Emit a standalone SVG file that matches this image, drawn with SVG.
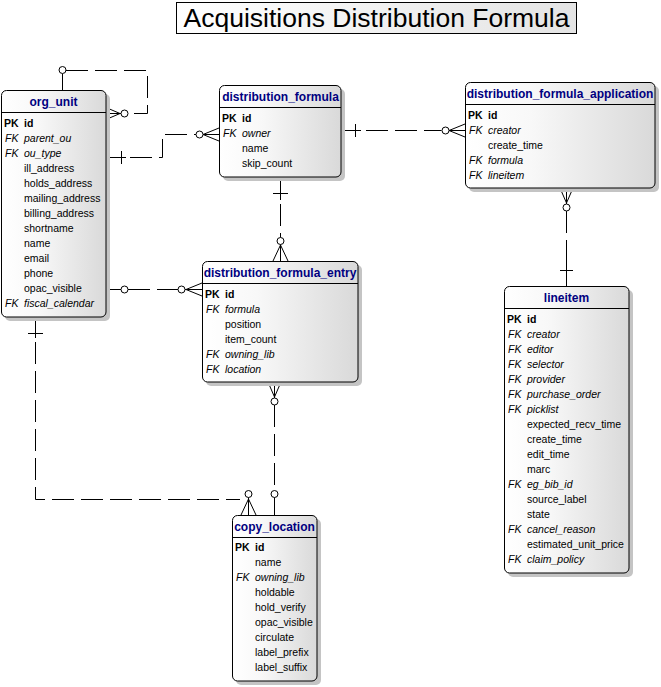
<svg xmlns="http://www.w3.org/2000/svg" width="661" height="687" viewBox="0 0 661 687">
<defs>
<linearGradient id="g" x1="0" y1="0" x2="1" y2="0">
<stop offset="0" stop-color="#ffffff"/>
<stop offset="0.35" stop-color="#f8f8f8"/>
<stop offset="1" stop-color="#d9d9d9"/>
</linearGradient>
<linearGradient id="gt" x1="0" y1="0" x2="1" y2="0">
<stop offset="0" stop-color="#ffffff"/>
<stop offset="1" stop-color="#e4e4e4"/>
</linearGradient>
</defs>
<style>
.box{fill:url(#g);stroke:#000;stroke-width:1}
.sh{fill:#c4c4c4;stroke:none}
.sep{stroke:#000;stroke-width:1}
.hdr{font-family:"Liberation Sans",Arial,sans-serif;font-size:12px;font-weight:bold;fill:#000080;text-anchor:middle}
.f{font-family:"Liberation Sans",Arial,sans-serif;font-size:10.5px;fill:#000}
.pk{font-weight:bold}
.fk{font-style:italic}
.ln{stroke:#000;stroke-width:1;fill:none}
.d{stroke-dasharray:22 7}
.c{stroke:#000;stroke-width:1;fill:#fff}
.title{font-family:"Liberation Sans",Arial,sans-serif;font-size:26.5px;fill:#000;text-anchor:middle}
</style>
<rect width="661" height="687" fill="#fff"/>

<g id="title">
<rect x="176.5" y="2.5" width="400" height="31" fill="url(#gt)" stroke="#000"/>
<text class="title" x="376.5" y="27">Acquisitions Distribution Formula</text>
</g>

<g id="connectors">
<!-- org_unit self reference (parent_ou) -->
<path class="ln" d="M62.5,90 V73.5"/>
<path class="ln d" d="M66,70.5 H147.5 V113.5 H128"/>
<circle class="c" cx="62.5" cy="70" r="3.5"/>
<path class="ln" d="M121,113.5 H106 M120,113.5 L106,107.5 M120,113.5 L106,119.5"/>
<circle class="c" cx="124.5" cy="113.5" r="3.5"/>

<!-- org_unit -> distribution_formula (owner) -->
<path class="ln" d="M106,157.5 H126 M121.5,151 V164"/>
<path class="ln d" d="M130,157.5 H162.5 V134.5 H196"/>
<path class="ln" d="M203,134.5 H219 M203,134.5 L219,128 M203,134.5 L219,141"/>
<circle class="c" cx="199.5" cy="134.5" r="3.5"/>

<!-- distribution_formula -> distribution_formula_application (formula) -->
<path class="ln" d="M341,130.5 H361 M355.5,124 V137"/>
<path class="ln d" d="M366,130.5 H441.5"/>
<path class="ln" d="M449,130.5 H465 M449,130.5 L465,124 M449,130.5 L465,137"/>
<circle class="c" cx="445.5" cy="130.5" r="3.5"/>

<!-- lineitem -> distribution_formula_application (lineitem) -->
<path class="ln" d="M566.5,188 V204 M566.5,203 L560,188 M566.5,203 L573,188"/>
<circle class="c" cx="566.5" cy="207.5" r="3.5"/>
<path class="ln d" d="M566.5,211 V262"/>
<path class="ln" d="M566.5,262 V286 M560,270.5 H573"/>

<!-- distribution_formula -> distribution_formula_entry (formula) -->
<path class="ln" d="M280.5,177 V200 M273,193.5 H288"/>
<path class="ln d" d="M280.5,204 V237.5"/>
<circle class="c" cx="280.5" cy="241" r="3.5"/>
<path class="ln" d="M280.5,244.5 V261 M280.5,245 L273,261 M280.5,245 L288,261"/>

<!-- org_unit -> distribution_formula_entry (owning_lib) -->
<path class="ln" d="M106,289.5 H121"/>
<circle class="c" cx="124.5" cy="289.5" r="3.5"/>
<path class="ln d" d="M128,289.5 H178"/>
<circle class="c" cx="181.5" cy="289.5" r="3.5"/>
<path class="ln" d="M185,289.5 H202 M186,289.5 L202,283 M186,289.5 L202,296"/>

<!-- org_unit -> copy_location (owning_lib) -->
<path class="ln" d="M35.5,317 V338 M28,333.5 H43"/>
<path class="ln d" d="M35.5,342 V499.5 H240"/>
<circle class="c" cx="248.5" cy="494" r="3.5"/>
<path class="ln" d="M248.5,497.5 V515 M248.5,499 L241,515 M248.5,499 L256,515"/>

<!-- copy_location -> distribution_formula_entry (location) -->
<path class="ln" d="M274.5,382 V398 M274.5,397 L268,382 M274.5,397 L281,382"/>
<circle class="c" cx="274.5" cy="401.5" r="3.5"/>
<path class="ln d" d="M274.5,405 V490.5"/>
<circle class="c" cx="274.5" cy="494" r="3.5"/>
<path class="ln" d="M274.5,497.5 V515"/>
</g>

<g id="org_unit">
<rect class="sh" x="5" y="94" width="105" height="227" rx="5"/>
<rect class="box" x="1.5" y="90.5" width="104.5" height="226.5" rx="5"/>
<line class="sep" x1="1.5" y1="112.5" x2="106" y2="112.5"/>
<text class="hdr" x="53.5" y="106">org_unit</text>
<text class="f pk" x="4" y="127">PK<tspan x="24">id</tspan></text>
<text class="f fk" x="5" y="142">FK<tspan x="24">parent_ou</tspan></text>
<text class="f fk" x="5" y="157">FK<tspan x="24">ou_type</tspan></text>
<text class="f" x="24" y="172">ill_address</text>
<text class="f" x="24" y="187">holds_address</text>
<text class="f" x="24" y="202">mailing_address</text>
<text class="f" x="24" y="217">billing_address</text>
<text class="f" x="24" y="232">shortname</text>
<text class="f" x="24" y="247">name</text>
<text class="f" x="24" y="262">email</text>
<text class="f" x="24" y="277">phone</text>
<text class="f" x="24" y="292">opac_visible</text>
<text class="f fk" x="5" y="307">FK<tspan x="24">fiscal_calendar</tspan></text>
</g>

<g id="distribution_formula">
<rect class="sh" x="223" y="89" width="122" height="92" rx="5"/>
<rect class="box" x="219.5" y="85.5" width="121.5" height="91.5" rx="5"/>
<line class="sep" x1="219.5" y1="107.5" x2="341" y2="107.5"/>
<text class="hdr" x="280.5" y="101">distribution_formula</text>
<text class="f pk" x="222" y="122">PK<tspan x="242">id</tspan></text>
<text class="f fk" x="223" y="137">FK<tspan x="242">owner</tspan></text>
<text class="f" x="242" y="152">name</text>
<text class="f" x="242" y="167">skip_count</text>
</g>

<g id="distribution_formula_application">
<rect class="sh" x="469" y="86" width="190" height="106" rx="5"/>
<rect class="box" x="465.5" y="82.5" width="189.5" height="105.5" rx="5"/>
<line class="sep" x1="465.5" y1="104.5" x2="655" y2="104.5"/>
<text class="hdr" x="560" y="98">distribution_formula_application</text>
<text class="f pk" x="468" y="119">PK<tspan x="488">id</tspan></text>
<text class="f fk" x="469" y="134">FK<tspan x="488">creator</tspan></text>
<text class="f" x="488" y="149">create_time</text>
<text class="f fk" x="469" y="164">FK<tspan x="488">formula</tspan></text>
<text class="f fk" x="469" y="179">FK<tspan x="488">lineitem</tspan></text>
</g>

<g id="distribution_formula_entry">
<rect class="sh" x="206" y="265" width="156" height="121" rx="5"/>
<rect class="box" x="202.5" y="261.5" width="155.5" height="120.5" rx="5"/>
<line class="sep" x1="202.5" y1="283.5" x2="358" y2="283.5"/>
<text class="hdr" x="280" y="277">distribution_formula_entry</text>
<text class="f pk" x="205" y="298">PK<tspan x="225">id</tspan></text>
<text class="f fk" x="206" y="313">FK<tspan x="225">formula</tspan></text>
<text class="f" x="225" y="328">position</text>
<text class="f" x="225" y="343">item_count</text>
<text class="f fk" x="206" y="358">FK<tspan x="225">owning_lib</tspan></text>
<text class="f fk" x="206" y="373">FK<tspan x="225">location</tspan></text>
</g>

<g id="copy_location">
<rect class="sh" x="236" y="519" width="85" height="166" rx="5"/>
<rect class="box" x="232.5" y="515.5" width="84.5" height="165.5" rx="5"/>
<line class="sep" x1="232.5" y1="537.5" x2="317" y2="537.5"/>
<text class="hdr" x="274.5" y="531">copy_location</text>
<text class="f pk" x="235" y="551">PK<tspan x="255">id</tspan></text>
<text class="f" x="255" y="566">name</text>
<text class="f fk" x="236" y="581">FK<tspan x="255">owning_lib</tspan></text>
<text class="f" x="255" y="596">holdable</text>
<text class="f" x="255" y="611">hold_verify</text>
<text class="f" x="255" y="626">opac_visible</text>
<text class="f" x="255" y="641">circulate</text>
<text class="f" x="255" y="656">label_prefix</text>
<text class="f" x="255" y="671">label_suffix</text>
</g>

<g id="lineitem">
<rect class="sh" x="508" y="290" width="125" height="287" rx="5"/>
<rect class="box" x="504.5" y="286.5" width="124.5" height="286.5" rx="5"/>
<line class="sep" x1="504.5" y1="308.5" x2="629" y2="308.5"/>
<text class="hdr" x="566.5" y="302">lineitem</text>
<text class="f pk" x="507" y="323">PK<tspan x="527">id</tspan></text>
<text class="f fk" x="508" y="338">FK<tspan x="527">creator</tspan></text>
<text class="f fk" x="508" y="353">FK<tspan x="527">editor</tspan></text>
<text class="f fk" x="508" y="368">FK<tspan x="527">selector</tspan></text>
<text class="f fk" x="508" y="383">FK<tspan x="527">provider</tspan></text>
<text class="f fk" x="508" y="398">FK<tspan x="527">purchase_order</tspan></text>
<text class="f fk" x="508" y="413">FK<tspan x="527">picklist</tspan></text>
<text class="f" x="527" y="428">expected_recv_time</text>
<text class="f" x="527" y="443">create_time</text>
<text class="f" x="527" y="458">edit_time</text>
<text class="f" x="527" y="473">marc</text>
<text class="f fk" x="508" y="488">FK<tspan x="527">eg_bib_id</tspan></text>
<text class="f" x="527" y="503">source_label</text>
<text class="f" x="527" y="518">state</text>
<text class="f fk" x="508" y="533">FK<tspan x="527">cancel_reason</tspan></text>
<text class="f" x="527" y="548">estimated_unit_price</text>
<text class="f fk" x="508" y="563">FK<tspan x="527">claim_policy</tspan></text>
</g>
</svg>
